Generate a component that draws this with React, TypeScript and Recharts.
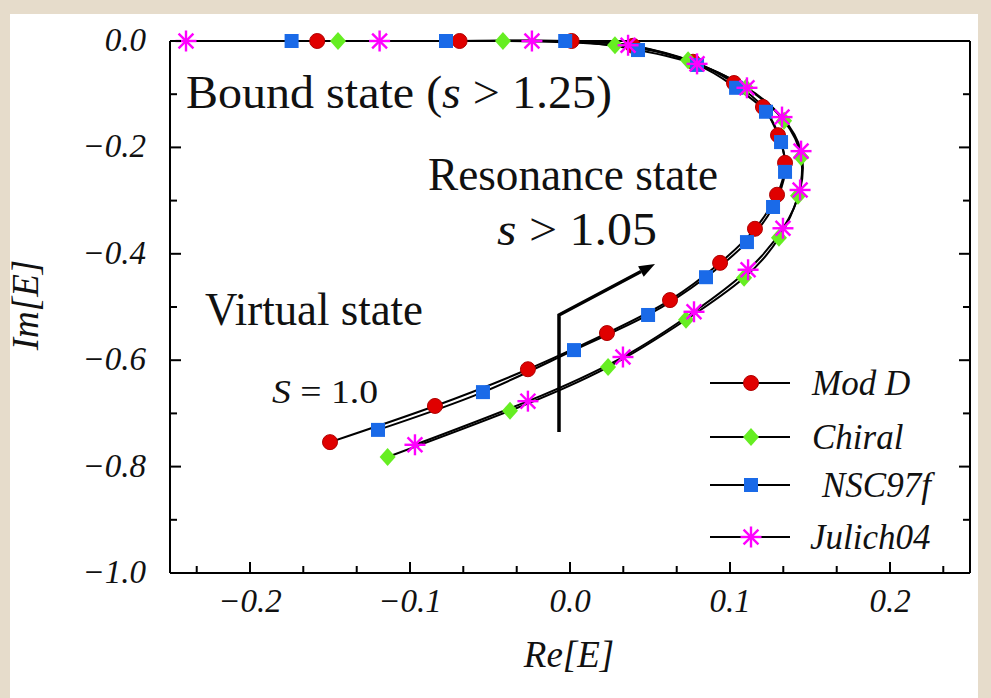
import React from 'react';
import { ScatterChart, Scatter, XAxis, YAxis, Legend } from 'recharts';

// complex energy trajectories, Re[E] and Im[E] for each potential
const modDRe = [-0.150, -0.0844, -0.0263, 0.0231, 0.0625, 0.0938, 0.1156, 0.1294, 0.1344, 0.130, 0.1206, 0.1025, 0.0769, 0.0394, 0.001, -0.069, -0.158];
const modDIm = [-0.754, -0.686, -0.617, -0.549, -0.487, -0.417, -0.353, -0.289, -0.229, -0.177, -0.124, -0.079, -0.039, -0.009, 0, 0, 0];

const chiralRe = [-0.114, -0.0375, 0.0238, 0.0725, 0.1088, 0.1306, 0.1425, 0.1444, 0.1338, 0.110, 0.0738, 0.0281, -0.0419, -0.145];
const chiralIm = [-0.782, -0.695, -0.613, -0.524, -0.445, -0.370, -0.291, -0.218, -0.150, -0.088, -0.036, -0.008, 0, 0];

const nscRe = [-0.120, -0.0544, 0.0025, 0.0488, 0.085, 0.1106, 0.1269, 0.1344, 0.1319, 0.1225, 0.1038, 0.0794, 0.0425, -0.003, -0.0775, -0.174];
const nscIm = [-0.731, -0.660, -0.581, -0.515, -0.444, -0.378, -0.312, -0.246, -0.190, -0.133, -0.088, -0.045, -0.017, 0, 0, 0];

const julichRe = [-0.0969, -0.0263, 0.0331, 0.0775, 0.1113, 0.1331, 0.1438, 0.1444, 0.1325, 0.1106, 0.0794, 0.0363, -0.0238, -0.119, -0.240];
const julichIm = [-0.759, -0.677, -0.594, -0.509, -0.430, -0.352, -0.280, -0.207, -0.143, -0.088, -0.043, -0.008, 0, 0, 0];

const xTicks = [-0.2333, -0.2, -0.1667, -0.1333, -0.1, -0.0667, -0.0333, 0, 0.0333, 0.0667, 0.1, 0.1333, 0.1667, 0.2, 0.2333];
const xLabels = [-0.2, -0.1, 0, 0.1, 0.2];
const yTicks = [0, -0.1, -0.2, -0.3, -0.4, -0.5, -0.6, -0.7, -0.8, -0.9, -1.0];
const yLabels = [0, -0.2, -0.4, -0.6, -0.8, -1.0];

const serif = '"Liberation Serif", "Times New Roman", serif';

const zip = (re: number[], im: number[]) => re.map((x, i) => ({ x, y: im[i] }));
const isMajor = (list: number[], v: number) => list.some((t) => Math.abs(t - v) < 1e-6);
const fmt = (v: number) => (Math.abs(v) < 1e-9 ? '0.0' : v.toFixed(1).replace('-', '\u2212'));

const RedCircle = (p: any) => (
  <circle cx={p.cx} cy={p.cy} r={7.5} fill="#e00000" stroke="#b00000" strokeWidth={1} />
);
const GreenDiamond = (p: any) => (
  <polygon
    points={`${p.cx},${p.cy - 9} ${p.cx + 8},${p.cy} ${p.cx},${p.cy + 9} ${p.cx - 8},${p.cy}`}
    fill="#66ee22"
  />
);
const BlueSquare = (p: any) => <rect x={p.cx - 7} y={p.cy - 7} width={14} height={14} fill="#1a6ae8" />;
const MagentaStar = (p: any) => {
  const r = 10.5;
  const d = r * 0.7071;
  return (
    <g stroke="#ff00ff" strokeWidth={2.4}>
      <line x1={p.cx} y1={p.cy - r} x2={p.cx} y2={p.cy + r} />
      <line x1={p.cx - r} y1={p.cy} x2={p.cx + r} y2={p.cy} />
      <line x1={p.cx - d} y1={p.cy - d} x2={p.cx + d} y2={p.cy + d} />
      <line x1={p.cx - d} y1={p.cy + d} x2={p.cx + d} y2={p.cy - d} />
    </g>
  );
};

const series = [
  { name: 'Mod D', data: zip(modDRe, modDIm), Marker: RedCircle, dx: 0 },
  { name: 'Chiral', data: zip(chiralRe, chiralIm), Marker: GreenDiamond, dx: 0 },
  { name: 'NSC97f', data: zip(nscRe, nscIm), Marker: BlueSquare, dx: 10 },
  { name: 'Julich04', data: zip(julichRe, julichIm), Marker: MagentaStar, dx: -2 },
];

const tickText = { fontFamily: serif, fontStyle: 'italic', fontSize: 33, fill: '#111' } as const;

const BottomTick = ({ x, y, payload }: any) => {
  const major = isMajor(xLabels, payload.value);
  return (
    <g>
      <line x1={x} y1={y} x2={x} y2={y - (major ? 11 : 7)} stroke="#000" strokeWidth={2} />
      {major && (
        <text x={x} y={y + 39} textAnchor="middle" {...tickText}>
          {fmt(payload.value)}
        </text>
      )}
    </g>
  );
};
const TopTick = ({ x, y, payload }: any) => (
  <line x1={x} y1={y} x2={x} y2={y + (isMajor(xLabels, payload.value) ? 11 : 7)} stroke="#000" strokeWidth={2} />
);
const LeftTick = ({ x, y, payload }: any) => {
  const major = isMajor(yLabels, payload.value);
  return (
    <g>
      <line x1={x} y1={y} x2={x + (major ? 11 : 7)} y2={y} stroke="#000" strokeWidth={2} />
      {major && (
        <text x={x - 24} y={y + 10} textAnchor="end" {...tickText}>
          {fmt(payload.value)}
        </text>
      )}
    </g>
  );
};
const RightTick = ({ x, y, payload }: any) => (
  <line x1={x} y1={y} x2={x - (isMajor(yLabels, payload.value) ? 11 : 7)} y2={y} stroke="#000" strokeWidth={2} />
);

const LegendBox = () => (
  <svg width={280} height={200}>
    {series.map((s, i) => {
      const cy = [23, 77, 125, 177][i];
      const M = s.Marker;
      return (
        <g key={s.name}>
          <line x1={10} y1={cy} x2={90} y2={cy} stroke="#000" strokeWidth={2} />
          <M cx={51} cy={cy} />
          <text x={112 + s.dx} y={cy + 12} fontFamily={serif} fontStyle="italic" fontSize={35} fill="#111">
            {s.name}
          </text>
        </g>
      );
    })}
  </svg>
);

const axisLine = { stroke: '#000', strokeWidth: 2 };
const noMark = () => <g />;

export default function App() {
  const big = { fontFamily: serif, fontSize: 46, fill: '#111' };
  return (
    <div style={{ position: 'absolute', left: 0, top: 0, width: 991, height: 698, background: '#e6dccb' }}>
      <div style={{ position: 'absolute', left: 10, top: 14, width: 968, height: 684, background: '#fff' }} />
      <div style={{ position: 'absolute', left: 0, top: 0 }}>
        <ScatterChart width={991} height={698} margin={{ top: 40, right: 20, bottom: 0, left: 0 }}>
          <XAxis xAxisId="b" type="number" dataKey="x" domain={[-0.25, 0.25]} ticks={xTicks} interval={0}
            height={125} tickSize={0} tickMargin={0} axisLine={axisLine} tickLine={false} tick={BottomTick} />
          <XAxis xAxisId="t" orientation="top" type="number" domain={[-0.25, 0.25]} ticks={xTicks} interval={0}
            height={1} tickSize={0} tickMargin={0} axisLine={axisLine} tickLine={false} tick={TopTick} allowDataOverflow />
          <YAxis yAxisId="l" type="number" dataKey="y" domain={[-1, 0]} ticks={yTicks} interval={0}
            width={170} tickSize={0} tickMargin={0} axisLine={axisLine} tickLine={false} tick={LeftTick} />
          <YAxis yAxisId="r" orientation="right" type="number" domain={[-1, 0]} ticks={yTicks} interval={0}
            width={1} tickSize={0} tickMargin={0} axisLine={axisLine} tickLine={false} tick={RightTick} allowDataOverflow />
          {series.map((s) => (
            <Scatter key={`${s.name}-line`} name={`${s.name}-line`} data={s.data} xAxisId="b" yAxisId="l"
              line={{ stroke: '#000', strokeWidth: 2 }} lineJointType="natural" shape={noMark}
              legendType="none" isAnimationActive={false} />
          ))}
          {series.map((s) => (
            <Scatter key={s.name} name={s.name} data={s.data} xAxisId="b" yAxisId="l"
              shape={s.Marker} isAnimationActive={false} />
          ))}
          <Legend layout="vertical" align="center" verticalAlign="middle"
            wrapperStyle={{ left: 700, top: 360, width: 280, height: 200 }} content={() => <LegendBox />} />
        </ScatterChart>
      </div>
      <svg width={991} height={698} style={{ position: 'absolute', left: 0, top: 0, pointerEvents: 'none' }}>
        <text x={186} y={108} textLength={426} lengthAdjust="spacingAndGlyphs" {...big}>
          Bound state (<tspan fontStyle="italic">s</tspan> {'>'} 1.25)
        </text>
        <text x={428} y={190} textLength={290} lengthAdjust="spacingAndGlyphs" {...big}>Resonance state</text>
        <text x={497} y={245} textLength={160} lengthAdjust="spacingAndGlyphs" {...big}>
          <tspan fontStyle="italic">s</tspan> {'>'} 1.05
        </text>
        <text x={205} y={325} textLength={218} lengthAdjust="spacingAndGlyphs" {...big}>Virtual state</text>
        <text x={272} y={403} textLength={106} lengthAdjust="spacingAndGlyphs" fontFamily={serif} fontSize={33} fill="#111">
          <tspan fontStyle="italic">S</tspan> = 1.0
        </text>
        <polyline points="559,432 559,315 641,271.5" fill="none" stroke="#000" strokeWidth={3.5} />
        <polygon points="655,264 643.7,276.8 638.1,266.2" fill="#000" />
        <text x={569} y={667} textAnchor="middle" fontFamily={serif} fontStyle="italic" fontSize={37} fill="#111">Re[E]</text>
        <text x={0} y={0} transform="translate(38,305) rotate(-90)" textAnchor="middle" fontFamily={serif}
          fontStyle="italic" fontSize={37} fill="#111">Im[E]</text>
      </svg>
    </div>
  );
}
